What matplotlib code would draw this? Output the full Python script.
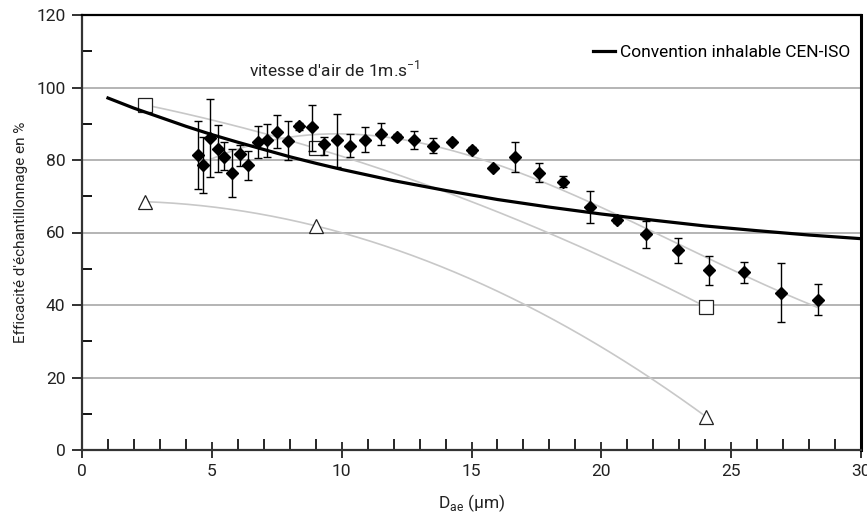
import numpy as np
import matplotlib
matplotlib.use("Agg")
import matplotlib.pyplot as plt
from matplotlib.ticker import MultipleLocator

plt.rcParams['font.family'] = ['Roboto', 'DejaVu Sans']

# measured efficiencies (diamonds) with error bar ends
diam_x = [4.46, 4.67, 4.94, 5.22, 5.48, 5.77, 6.09, 6.41, 6.77, 7.14, 7.51, 7.94,
          8.35, 8.84, 9.31, 9.81, 10.34, 10.91, 11.5, 12.14, 12.8, 13.5, 14.23,
          15.02, 15.81, 16.67, 17.59, 18.54, 19.55, 20.61, 21.72, 22.94, 24.16,
          25.49, 26.9, 28.34]
diam_y = [81.4, 78.6, 86.0, 83.0, 80.9, 76.5, 81.7, 78.5, 85.1, 85.5, 87.8, 85.2,
          89.4, 89.0, 84.4, 85.5, 84.0, 85.6, 87.2, 86.4, 85.5, 83.9, 85.0,
          82.8, 77.7, 80.7, 76.5, 74.0, 67.1, 63.4, 59.6, 55.2, 49.6,
          49.0, 43.4, 41.4]
diam_hi = [90.8, 86.4, 96.7, 89.6, 85.1, 82.9, 84.1, 82.6, 89.5, 89.8, 92.3, 90.8,
           90.3, 95.2, 86.4, 92.7, 87.1, 89.0, 90.1, 87.1, 88.0, 86.0, 85.6,
           83.5, 77.7, 84.9, 79.1, 75.6, 71.4, 64.2, 63.2, 58.6, 53.4,
           51.9, 51.5, 45.8]
diam_lo = [71.9, 70.8, 75.2, 76.7, 77.2, 69.9, 78.3, 74.5, 80.6, 80.9, 83.2, 80.0,
           88.4, 82.5, 81.4, 78.0, 80.7, 82.3, 84.1, 85.7, 83.1, 81.8, 84.4,
           82.0, 77.7, 76.8, 73.9, 72.5, 62.7, 62.6, 55.8, 51.7, 45.4,
           46.2, 35.4, 37.2]

# open squares and triangles
sq_x = [2.43, 9.02, 24.05]
sq_y = [95.2, 83.2, 39.4]
tri_x = [2.43, 9.02, 24.03]
tri_y = [68.5, 61.8, 9.2]

# CEN-ISO inhalable convention
conv_x = [1, 2, 3, 4, 5, 6, 7, 8, 9, 10, 12, 14, 16, 18, 20, 22, 24, 26, 28, 30]
conv_y = [97.1, 94.3, 91.8, 89.3, 87.0, 84.9, 82.9, 80.9, 79.1, 77.4, 74.3, 71.6,
          69.1, 67.0, 65.1, 63.4, 61.8, 60.5, 59.3, 58.3]

fig = plt.figure(figsize=(8.67, 5.17), dpi=100)
ax = fig.add_axes([82 / 867, 1 - 450 / 517, (861 - 82) / 867, (450 - 15) / 517])

grey = '#c8c8c8'
# trendlines
dx = np.array(diam_x)
p3 = np.polyfit(dx, diam_y, 3)
xx = np.linspace(dx.min(), dx.max(), 200)
ax.plot(xx, np.polyval(p3, xx), color=grey, lw=1.2, zorder=2)
p2 = np.polyfit(sq_x, sq_y, 2)
xx = np.linspace(min(sq_x), max(sq_x), 200)
ax.plot(xx, np.polyval(p2, xx), color=grey, lw=1.2, zorder=2)
p2 = np.polyfit(tri_x, tri_y, 2)
xx = np.linspace(min(tri_x), max(tri_x), 200)
ax.plot(xx, np.polyval(p2, xx), color=grey, lw=1.2, zorder=2)

dy = np.array(diam_y)
yerr = [dy - np.array(diam_lo), np.array(diam_hi) - dy]
ax.errorbar(diam_x, diam_y, yerr=yerr, fmt='D', color='black', ms=6.3,
            ecolor='black', elinewidth=1, capsize=3, capthick=1, zorder=4)
ax.plot(sq_x, sq_y, 's', ms=9.5, mfc='white', mec='#222222', mew=0.9, zorder=3)
ax.plot(tri_x, tri_y, '^', ms=10, mfc='white', mec='#222222', mew=0.9, zorder=3)

ax.plot(conv_x, conv_y, color='black', lw=2.3, zorder=5,
        label='Convention inhalable CEN-ISO')

ax.set_xlim(0, 30)
ax.set_ylim(0, 120)
ax.xaxis.set_major_locator(MultipleLocator(5))
ax.xaxis.set_minor_locator(MultipleLocator(1))
ax.yaxis.set_major_locator(MultipleLocator(20))
ax.yaxis.set_minor_locator(MultipleLocator(10))

for y in [20, 40, 60, 80, 100]:
    ax.axhline(y, color='#a8a8a8', lw=1.2, zorder=1)

ax.tick_params(axis='y', which='major', direction='out', length=7, width=1.3,
               labelsize=12.5, colors='#222222', pad=5)
ax.tick_params(axis='y', which='minor', direction='in', length=7, width=1.3)
ax.tick_params(axis='x', which='major', direction='inout', length=12, width=1.3,
               labelsize=12.5, colors='#222222', pad=4)
ax.tick_params(axis='x', which='minor', direction='in', length=8, width=1.2)

for s in ['left', 'bottom']:
    ax.spines[s].set_linewidth(1.6)
    ax.spines[s].set_color('#333333')
ax.spines['top'].set_linewidth(1.6)
ax.spines['right'].set_linewidth(2.2)

ax.set_ylabel("Efficacité d'échantillonnage en %", fontsize=11, color='#222222',
              labelpad=6)
ax.set_xlabel(r"D$_{\mathregular{ae}}$ (µm)", fontsize=12.5, color='#222222', labelpad=10)

ax.text(0.214, 0.875, r"vitesse d'air de 1m.s$^{\mathregular{-1}}$", transform=ax.transAxes,
        fontsize=12.5, color='#222222', va='center')
ax.legend(loc='upper right', bbox_to_anchor=(1.0, 0.955), frameon=False, fontsize=12.5,
          handlelength=1.3, handletextpad=0.3, borderaxespad=0.2)

fig.savefig('out.png', dpi=100)
